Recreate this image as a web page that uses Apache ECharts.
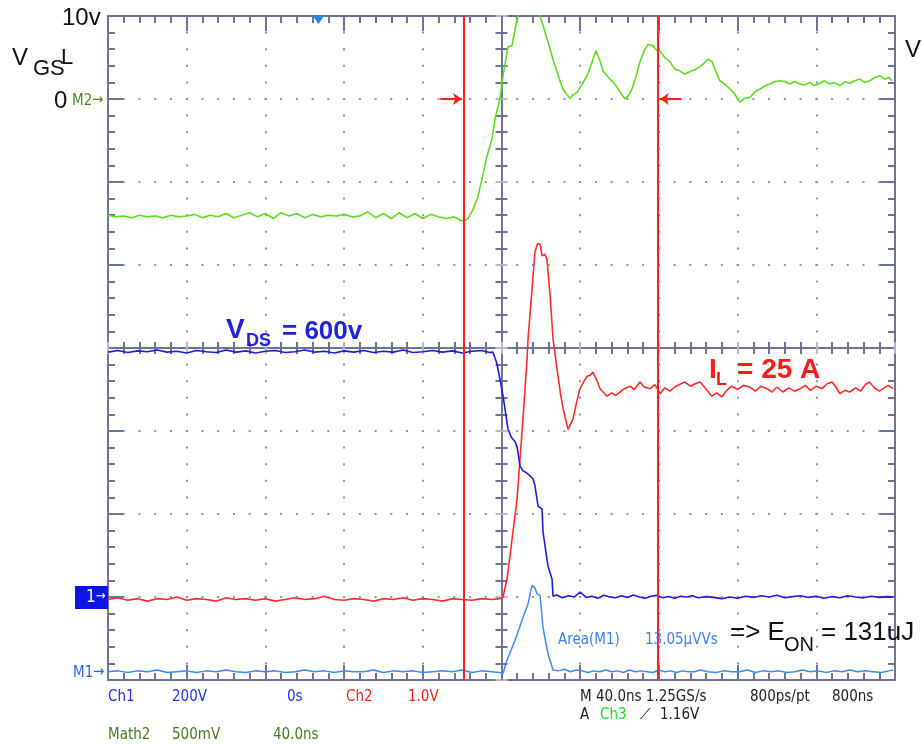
<!DOCTYPE html>
<html><head><meta charset="utf-8">
<script src="https://cdn.jsdelivr.net/npm/echarts@6/dist/echarts.min.js"></script>
<style>html,body{margin:0;padding:0;background:#fff}#c{width:924px;height:744px}</style>
</head><body><div id="c"></div>
<script>
// time in ns (0 = screen centre), 40 ns/div
const timeRange = [-200, 200];
const cursorTimes = [-19.1, 79.5];
const triggerTime = -93;

// V_GS (V) – 10 V/div, 0 V one division below top
const vgsTrace = [[-200,-14.0],[-196,-14.2],[-192,-14.1],[-188,-14.3],[-184,-14.0],[-180,-14.2],[-176,-14.1],[-172,-14.3],[-168,-14.0],[-164,-14.2],[-160,-14.1],[-156,-13.9],[-152,-14.3],[-148,-14.0],[-144,-14.2],[-140,-13.8],[-136,-14.3],[-132,-14.0],[-128,-13.7],[-124,-14.2],[-120,-13.8],[-116,-14.4],[-112,-13.7],[-108,-14.1],[-104,-13.8],[-100,-14.3],[-96,-13.9],[-92,-14.2],[-88,-14.0],[-84,-14.1],[-80,-13.9],[-76,-14.2],[-72,-14.1],[-68,-13.6],[-64,-14.3],[-60,-13.8],[-56,-14.4],[-52,-13.7],[-48,-14.3],[-44,-13.8],[-40,-14.4],[-36,-13.9],[-32,-14.2],[-28,-14.4],[-24,-14.2],[-21,-14.6],[-19,-14.7],
[-17,-14.4],[-14.5,-13.3],[-12,-11.8],[-9.9,-9.6],[-7.4,-6.9],[-4.8,-4.8],[-3.3,-2.4],[-0.8,0.0],[0.8,2.8],[3.3,6.3],[5.3,6.4],[6.9,8.4],[8.4,10.0],[11,11.6],[14,12.2],[17,11.6],[19.6,10.0],
[22,8.2],[24.7,6.0],[26.5,4.5],[28.2,3.3],[30,2.0],[31.3,1.2],[33,0.6],[34.8,0.1],[36.3,0.5],[38.4,0.8],[41,1.8],[43.5,2.8],[46,4.4],[48.0,5.8],[50,4.6],[51.6,3.4],[55,2.4],[57,2.0],[58.7,1.4],[61,0.6],[62.8,0.0],[64.5,0.4],[66.3,1.2],[68.5,2.8],[70.4,4.5],[72.5,5.8],[74.5,6.6],[77.0,6.4],[78.8,5.9],[80.6,5.8],[83,5.0],[85.6,4.5],[88,3.6],[90.7,3.4],[93,3.0],[95.8,3.3],[98,3.5],[100.9,3.9],[103,4.3],[104.9,4.8],[107,4.5],[109,3.3],[111,2.2],[113.5,1.8],[116.1,1.2],[118.5,0.6],[121.2,-0.4],[123.5,0.1],[126.3,0.2],[129,0.9],[131.4,1.2],[134,1.6],[136.4,1.8],[139,2.1],[141.5,2.2],[144,2.1],[146.6,1.8],[149,2.1],[151.7,1.8],[154,1.7],[156.8,2.0],[159,1.6],[161.8,1.9],[164,2.2],[166.9,1.8],[169,2.0],[172,1.6],[174.5,2.1],[177.1,1.9],[179.5,2.2],[182.2,2.4],[184.5,2.0],[187.3,2.2],[189.8,2.6],[192.3,2.8],[194.9,2.4],[197,2.6],[198.5,2.2]];

// V_DS (V) – Ch1 200 V/div
const vdsTrace = [[-200,590],[-195,594],[-190,589],[-185,593],[-180,591],[-175,595],[-170,590],[-165,592],[-160,588],[-155,594],[-150,591],[-145,589],[-140,595],[-135,590],[-130,593],[-125,588],[-120,592],[-115,594],[-110,589],[-105,591],[-100,595],[-95,590],[-90,592],[-85,588],[-80,593],[-75,590],[-70,594],[-65,589],[-60,592],[-55,590],[-50,595],[-45,589],[-40,591],[-35,594],[-30,590],[-25,593],[-20,588],[-15,592],[-10,594],[-6,589],
[-4.3,590],[-2.3,562],[-0.8,525],[0.8,484],[3.3,405],[5,385],[6.9,374],[8,360],[9.4,316],[10.9,304],[12.5,300],[14.5,292],[16,285],[17.0,268],[18.6,219],[20.6,212],[21.1,157],[23.6,75],[25.7,43],[26.2,2],
[28,5],[31,-2],[34,3],[37,0],[40,12],[43,-1],[46,2],[49,-3],[52,4],[55,0],[58,-2],[61,3],[64,-1],[67,5],[70,0],[73,-3],[76,2],[79,4],[82,-2],[85,1],[88,-3],[91,2],[94,0],[97,3],[100,-2],[104,1],[108,-1],[112,-4],[116,0],[120,-3],[124,2],[128,-1],[132,3],[136,0],[140,4],[144,-2],[148,1],[152,3],[156,-1],[160,2],[164,-3],[168,1],[172,-2],[176,3],[180,0],[184,-2],[188,2],[192,-1],[196,1],[199,0]];

// I_L (A) – 10 A/div
const ilTrace = [[-200,-0.3],[-195,-0.1],[-190,-0.4],[-185,-0.2],[-180,-0.5],[-175,-0.2],[-170,-0.3],[-165,0.0],[-160,-0.4],[-155,-0.2],[-150,-0.3],[-145,-0.5],[-140,-0.1],[-135,-0.3],[-130,-0.2],[-125,-0.4],[-120,-0.2],[-115,-0.5],[-110,-0.3],[-105,-0.1],[-100,-0.3],[-95,-0.2],[-90,0.1],[-85,-0.3],[-80,-0.4],[-75,-0.2],[-70,-0.3],[-65,-0.5],[-60,-0.2],[-55,-0.3],[-50,-0.1],[-45,-0.4],[-40,-0.2],[-35,-0.3],[-30,-0.5],[-25,-0.2],[-20,-0.3],[-15,-0.4],[-10,-0.2],[-5,-0.3],[-1,-0.2],
[0.8,0.0],[2.8,2.2],[4.3,4.9],[5.8,7.8],[7.9,11.8],[9.4,16.6],[10.9,21.4],[13.0,28.7],[13.5,31.1],[15.5,37.1],[17.0,41.6],[18.4,42.6],[19.6,42.5],[20.6,41.1],[22,41.3],[23.1,40.7],[24.7,36.3],[26.2,31.1],[28.2,27.5],[30,24.5],[31.3,22.7],[33.8,20.2],[36.3,21.4],[38,23.3],[39.9,25.1],[41.5,25.8],[43.5,26.6],[45,26.7],[46.5,27.1],[48.3,26.2],[50.1,25.1],[52,24.6],[53.6,24.2],[56,24.6],[58,24.3],[60.3,24.7],[62.5,25.1],[65.3,25.4],[67.5,25.0],[70.4,25.9],[72.5,25.3],[75.5,25.1],[78,25.6],[80.6,24.5],[83,25.2],[85.6,24.8],[88,25.3],[90.5,25.6],[93.2,25.9],[96,25.4],[98.5,25.7],[100.9,25.9],[103.5,25.2],[106.9,24.2],[109.5,24.6],[112,24.1],[114.5,24.9],[117,25.4],[120,25.0],[123,25.5],[126.3,25.3],[129,24.8],[132,25.4],[134.9,25.1],[137.5,24.7],[140,25.3],[143,24.7],[146,25.2],[149,24.8],[151.7,25.1],[154.5,25.5],[157,24.9],[160,25.4],[163,25.1],[165.5,25.7],[168,25.9],[170,25.3],[172,24.5],[174.5,24.9],[177,24.7],[180,25.2],[182.5,24.8],[185,25.6],[187,25.9],[189.5,25.2],[192,24.8],[194,25.1],[196.5,25.5],[199,25.1]];

// M1 = V_DS * I_L (kW) – 10 kW/div
const powerTrace = [[-200,0.2],[-195,0.3],[-190,0.1],[-185,0.3],[-180,0.2],[-175,0.4],[-170,0.1],[-165,0.2],[-160,0.3],[-155,0.1],[-150,0.3],[-145,0.2],[-140,0.4],[-135,0.2],[-130,0.1],[-125,0.3],[-120,0.2],[-115,0.3],[-110,0.1],[-105,0.2],[-100,0.4],[-95,0.2],[-90,0.3],[-85,0.1],[-80,0.3],[-75,0.2],[-70,0.2],[-65,0.4],[-60,0.1],[-55,0.3],[-50,0.2],[-45,0.3],[-40,0.1],[-35,0.2],[-30,0.3],[-25,0.2],[-20,0.4],[-15,0.1],[-10,0.3],[-5,0.2],[-1,0.1],[0.8,0.0],
[2.8,1.6],[6.9,4.0],[10.9,6.7],[13.5,8.4],[15.5,10.6],[16.0,10.8],[17,10.3],[18.0,9.6],[19.6,9.4],[21.1,5.5],[23.6,2.4],[26.2,0.4],
[29,0.3],[32,0.5],[35,0.2],[38,0.4],[41,0.3],[44,0.1],[47,0.3],[50,0.2],[53,0.4],[56,0.2],[59,0.3],[62,0.1],[65,0.4],[68,0.2],[71,0.3],[74,0.2],[77,0.1],[80,0.4],[83,0.2],[86,0.3],[89,0.1],[92,0.3],[95,0.2],[98,0.2],[101,0.4],[105,0.2],[109,0.1],[113,0.3],[117,0.2],[121,0.2],[125,0.4],[129,0.1],[133,0.3],[137,0.2],[141,0.3],[145,0.1],[149,0.2],[153,0.4],[157,0.2],[161,0.3],[165,0.1],[169,0.3],[173,0.2],[177,0.4],[181,0.2],[185,0.3],[189,0.2],[193,0.1],[197,0.3],[199,0.4]];

// vertical scales: [min, max] per channel (8 divisions)
const vgsScale = [-70, 10];
const vdsScale = [-200, 1400];
const ilScale = [-10, 70];
const powerScale = [-0.8, 79.2];
const divScale = [-4, 4];

const FRAME = '#6c7394', DOT = '#8e94b0', LIGHT = '#b4b8cc';
const NARROW = '"Liberation Sans Narrow","DejaVu Sans Condensed",sans-serif';
const SANS = '"Liberation Sans",Arial,sans-serif';

function frameX(pos) {
  return { type:'value', min:timeRange[0], max:timeRange[1], interval:40, position:pos,
    axisLine:{onZero:false, lineStyle:{color:FRAME, width:2}},
    axisTick:{inside:true, length:15, lineStyle:{color:FRAME, width:2}},
    minorTick:{show:true, splitNumber:5, length:7, lineStyle:{color:FRAME, width:2}},
    axisLabel:{show:false},
    splitLine:{show:pos==='bottom', lineStyle:{color:DOT, width:2, type:[2,14.6], dashOffset:1}} };
}
function centerX(inside) {
  return { type:'value', min:timeRange[0], max:timeRange[1], interval:40, position:'bottom',
    axisLine:{show:true, onZero:true, onZeroAxisIndex:4, lineStyle:{color:FRAME, width:2}},
    axisTick:{inside:inside, length:6, lineStyle:{color:LIGHT, width:2}},
    minorTick:{show:true, splitNumber:5, length:6, lineStyle:{color:FRAME, width:2}},
    axisLabel:{show:false}, splitLine:{show:false} };
}
function frameY(pos) {
  return { type:'value', min:divScale[0], max:divScale[1], interval:1, position:pos,
    axisLine:{onZero:false, lineStyle:{color:FRAME, width:2}},
    axisTick:{inside:true, length:15, lineStyle:{color:FRAME, width:2}},
    minorTick:{show:true, splitNumber:5, length:7, lineStyle:{color:FRAME, width:2}},
    axisLabel:{show:false},
    splitLine:{show:pos==='left', lineStyle:{color:DOT, width:2, type:[2,13.74], dashOffset:1}} };
}
function centerY(inside) {
  return { type:'value', min:divScale[0], max:divScale[1], interval:1, position:'left',
    axisLine:{show:true, onZero:true, onZeroAxisIndex:0, lineStyle:{color:FRAME, width:2}},
    axisTick:{inside:inside, length:6, lineStyle:{color:LIGHT, width:2}},
    minorTick:{show:true, splitNumber:5, length:6, lineStyle:{color:FRAME, width:2}},
    axisLabel:{show:false}, splitLine:{show:false} };
}
function dataY(s) { return { type:'value', min:s[0], max:s[1], show:false }; }

function txt(x, y, text, size, color, extra) {
  return Object.assign({ type:'text', x:x, y:y, z:50,
    style:Object.assign({ text:text, fill:color, font:'normal ' + size + 'px ' + SANS,
      textVerticalAlign:'middle' }, extra || {}) });
}
function ntxt(x, y, text, color) {
  return { type:'text', x:x, y:y, z:50, style:{ text:text, fill:color,
    font:'normal 15px ' + NARROW, textVerticalAlign:'middle' } };
}
function btxt(x, y, text, size, color) {
  return { type:'text', x:x, y:y, z:50, style:{ text:text, fill:color,
    font:'bold ' + size + 'px ' + SANS, textVerticalAlign:'middle' } };
}

const chart = echarts.init(document.getElementById('c'), null, {renderer:'canvas'});
const traceBase = { type:'line', showSymbol:false, symbol:'none', animation:false, clip:true, xAxisIndex:0 };

chart.setOption({
  backgroundColor:'#ffffff',
  animation:false,
  grid:{ left:108, top:16, width:787, height:664 },
  xAxis:[ frameX('bottom'), frameX('top'), centerX(true), centerX(false) ],
  yAxis:[ dataY(vgsScale), dataY(vdsScale), dataY(ilScale), dataY(powerScale),
          frameY('left'), frameY('right'), centerY(true), centerY(false) ],
  series:[
    Object.assign({}, traceBase, { name:'IL', yAxisIndex:2, data:ilTrace, z:2,
      lineStyle:{color:'#ff2b2b', width:1.6} }),
    Object.assign({}, traceBase, { name:'VDS', yAxisIndex:1, data:vdsTrace, z:2,
      lineStyle:{color:'#1b1be2', width:1.6} }),
    Object.assign({}, traceBase, { name:'M1', yAxisIndex:3, data:powerTrace, z:2,
      lineStyle:{color:'#3d8af2', width:1.5} }),
    Object.assign({}, traceBase, { name:'VGS', yAxisIndex:0, data:vgsTrace, z:3,
      lineStyle:{color:'#5fdc1f', width:1.6},
      markPoint:{ silent:true, label:{show:false}, animation:false,
        data:[{ coord:[triggerTime, vgsScale[1]], symbol:'triangle', symbolRotate:180,
                symbolSize:[11,8], symbolOffset:[0,4], itemStyle:{color:'#1e8ae8'} }] },
      markLine:{ silent:true, animation:false, symbol:['none','none'], label:{show:false},
        lineStyle:{color:'#ff1f1f', width:2, type:'solid'},
        data:[
          { xAxis:cursorTimes[0] }, { xAxis:cursorTimes[1] },
          [ { coord:[cursorTimes[0]-12, 0] }, { coord:[cursorTimes[0]-1, 0], symbol:'arrow', symbolSize:9 } ],
          [ { coord:[cursorTimes[1]+12, 0] }, { coord:[cursorTimes[1]+1, 0], symbol:'arrow', symbolSize:9 } ]
        ] } })
  ],
  graphic:[
    txt(62, 18, '10v', 24, '#111'),
    txt(12, 58, 'V', 24, '#111'),
    txt(33, 69, 'GS', 22, '#111'),
    txt(61, 58, 'L', 22, '#111'),
    txt(54, 101, '0', 24, '#111'),
    ntxt(72, 101, 'M2', '#4c8a1e'),
    ntxt(92, 100, '→', '#4c8a1e'),
    txt(905, 50, 'V', 24, '#111'),
    { type:'rect', z:49, shape:{x:75, y:586, width:33, height:23}, style:{fill:'#0b16e6'} },
    { type:'text', x:86, y:598, z:50, style:{text:'1', fill:'#fff', font:'normal 17px ' + NARROW, textVerticalAlign:'middle'} },
    { type:'text', x:96, y:597, z:50, style:{text:'→', fill:'#fff', font:'normal 13px ' + NARROW, textVerticalAlign:'middle'} },
    ntxt(73, 673, 'M1', '#2766e0'),
    ntxt(93, 672, '→', '#2766e0'),
    btxt(226, 330, 'V', 28, '#2222dd'),
    btxt(246, 341, 'DS', 18, '#2222dd'),
    btxt(282, 332, '= 600v', 26, '#2222dd'),
    btxt(709, 370, 'I', 28, '#ff1a1a'),
    btxt(716, 380, 'L', 18, '#ff1a1a'),
    btxt(737, 370, '= 25 A', 28, '#ff1a1a'),
    ntxt(558, 640, 'Area(M1)', '#3b82f0'),
    ntxt(645, 640, '13.05µVVs', '#3b82f0'),
    txt(730, 633, '=> E', 26, '#111'),
    txt(784, 645, 'ON', 20, '#111'),
    txt(821, 633, '= 131uJ', 26, '#111'),
    ntxt(108, 697, 'Ch1', '#2233ee'),
    ntxt(172, 697, '200V', '#2233ee'),
    ntxt(287, 697, '0s', '#2233ee'),
    ntxt(346, 697, 'Ch2', '#ff2020'),
    ntxt(408, 697, '1.0V', '#ff2020'),
    ntxt(580, 697, 'M 40.0ns 1.25GS/s', '#222'),
    ntxt(750, 697, '800ps/pt', '#222'),
    ntxt(832, 697, '800ns', '#222'),
    ntxt(580, 715, 'A', '#222'),
    ntxt(600, 715, 'Ch3', '#22dd22'),
    ntxt(640, 715, '⟋', '#222'),
    ntxt(660, 715, '1.16V', '#222'),
    ntxt(108, 735, 'Math2', '#4a7a20'),
    ntxt(172, 735, '500mV', '#4a7a20'),
    ntxt(273, 735, '40.0ns', '#4a7a20')
  ]
});
</script></body></html>
